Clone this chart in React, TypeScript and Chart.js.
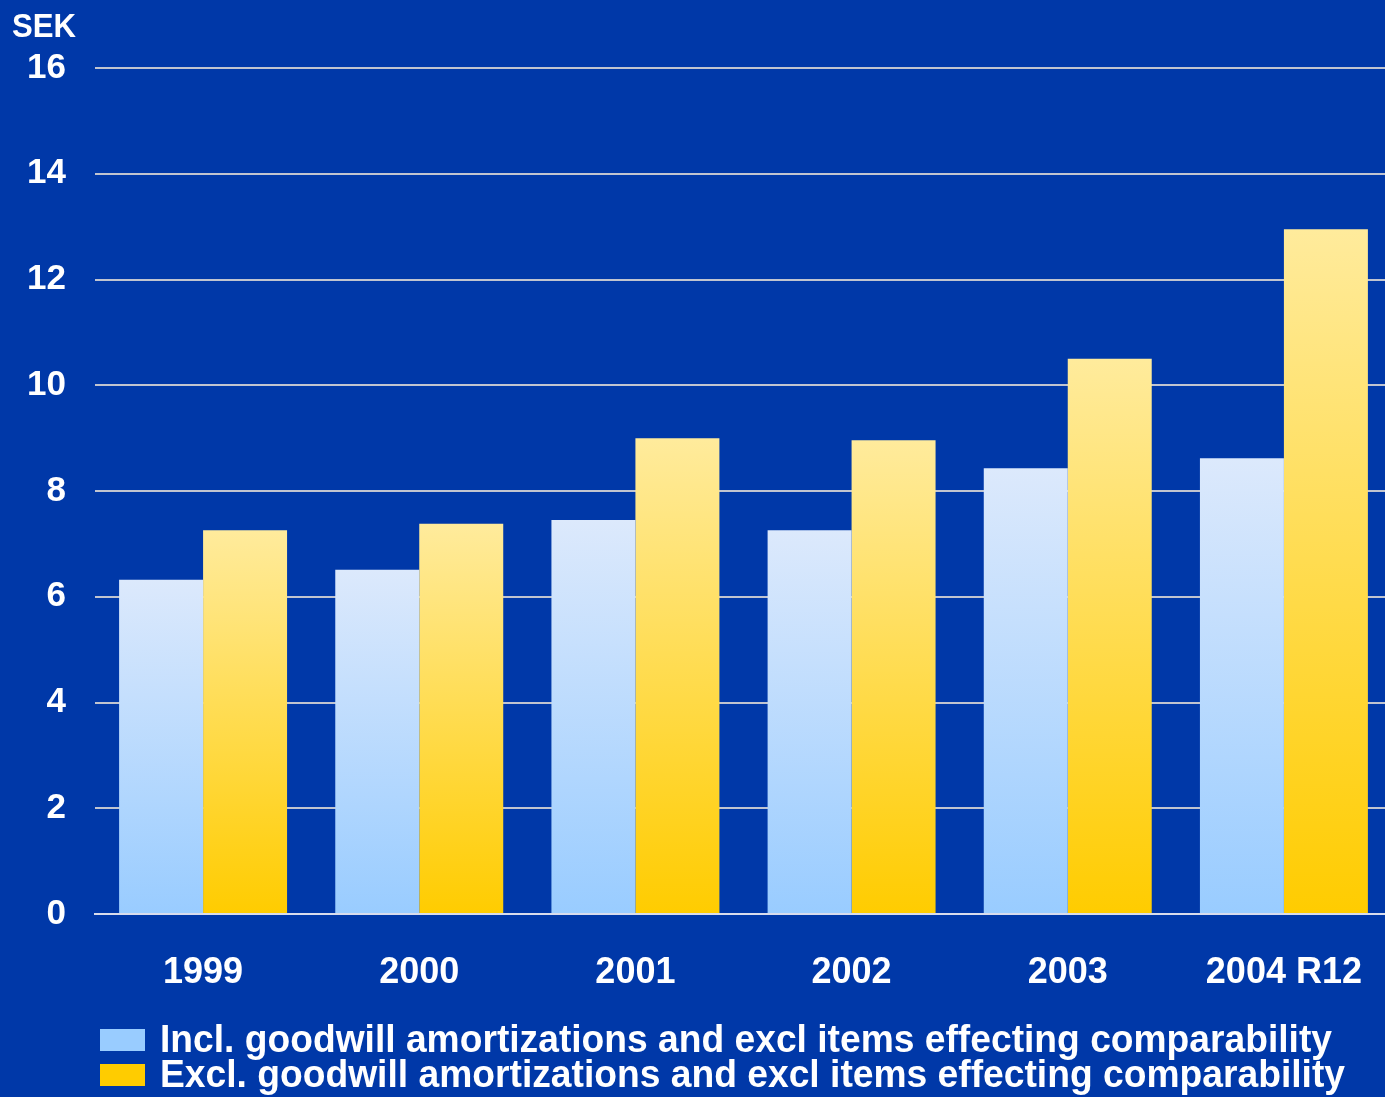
import React, { useEffect, useRef } from "react";
import { Chart, registerables } from "chart.js";

Chart.register(...registerables);

const categories = ["1999", "2000", "2001", "2002", "2003", "2004 R12"];
const inclGoodwill = [6.32, 6.51, 7.45, 7.26, 8.43, 8.62];
const exclGoodwill = [7.26, 7.38, 9.0, 8.96, 10.5, 12.95];
const seriesLabels = [
  "Incl. goodwill amortizations and excl items effecting comparability",
  "Excl. goodwill amortizations and excl items effecting comparability",
];
const yUnit = "SEK";

const BG = "#0038a8";
const FONT = "'Liberation Sans', Arial, sans-serif";

function barGradient(context: any, top: string, bottom: string) {
  const chart = context.chart;
  const { ctx, chartArea, scales } = chart;
  if (!chartArea || !scales || !scales.y) return bottom;
  const v = context.raw as number;
  const yTop = scales.y.getPixelForValue(v);
  const yBot = scales.y.getPixelForValue(0);
  if (!isFinite(yTop) || !isFinite(yBot) || yTop === yBot) return bottom;
  const g = ctx.createLinearGradient(0, yTop, 0, yBot);
  g.addColorStop(0, top);
  g.addColorStop(1, bottom);
  return g;
}

const extrasPlugin = {
  id: "extras",
  beforeDraw(chart: any) {
    const ctx = chart.ctx;
    ctx.save();
    ctx.fillStyle = BG;
    ctx.fillRect(0, 0, chart.width, chart.height);
    ctx.restore();
  },
  afterDraw(chart: any) {
    const ctx = chart.ctx;
    ctx.save();
    ctx.fillStyle = "#ffffff";
    ctx.textBaseline = "alphabetic";
    ctx.textAlign = "left";
    ctx.font = `bold 33px ${FONT}`;
    ctx.fillText(yUnit, 12, 37, 64);

    const swatches = ["#99ccff", "#ffcc00"];
    const rows = [
      { boxY: 1029, base: 1052, maxW: 1172 },
      { boxY: 1064, base: 1087, maxW: 1185 },
    ];
    rows.forEach((r, i) => {
      ctx.fillStyle = swatches[i];
      ctx.fillRect(100, r.boxY, 45, 22);
      ctx.fillStyle = "#ffffff";
      ctx.font = `bold 38px ${FONT}`;
      ctx.fillText(seriesLabels[i], 160, r.base, r.maxW);
    });
    ctx.restore();
  },
};

export default function App() {
  const ref = useRef<HTMLCanvasElement | null>(null);

  useEffect(() => {
    if (!ref.current) return;
    const chart = new Chart(ref.current, {
      type: "bar",
      data: {
        labels: categories,
        datasets: [
          {
            label: seriesLabels[0],
            data: inclGoodwill,
            backgroundColor: (c: any) => barGradient(c, "#dce9fc", "#99ccff"),
            borderWidth: 0,
            categoryPercentage: 0.777,
            barPercentage: 1,
          },
          {
            label: seriesLabels[1],
            data: exclGoodwill,
            backgroundColor: (c: any) => barGradient(c, "#ffeb9c", "#ffcc00"),
            borderWidth: 0,
            categoryPercentage: 0.777,
            barPercentage: 1,
          },
        ],
      },
      options: {
        animation: false,
        responsive: false,
        maintainAspectRatio: false,
        layout: { padding: { top: 68, left: 0, right: 8, bottom: 0 } },
        plugins: {
          legend: { display: false },
          tooltip: { enabled: false },
          title: { display: false },
        },
        scales: {
          x: {
            grid: { display: false, drawTicks: false },
            border: { display: true, color: "#d8dcec", width: 2 },
            ticks: {
              color: "#ffffff",
              font: { family: FONT, size: 36, weight: "bold" },
              padding: 37,
              maxRotation: 0,
              autoSkip: false,
            },
            afterFit: (s: any) => {
              s.height = 183;
            },
          },
          y: {
            min: 0,
            max: 16,
            grid: { color: "#c0c4d0", lineWidth: 2, drawTicks: false },
            border: { display: false },
            ticks: {
              stepSize: 2,
              color: "#ffffff",
              font: { family: FONT, size: 35, weight: "bold" },
              padding: 29,
            },
            afterFit: (s: any) => {
              s.width = 95;
            },
          },
        },
      },
      plugins: [extrasPlugin],
    });
    return () => chart.destroy();
  }, []);

  return (
    <div
      style={{
        position: "fixed",
        left: 0,
        top: 0,
        width: 1385,
        height: 1097,
        overflow: "hidden",
        background: BG,
      }}
    >
      <canvas ref={ref} width={1400} height={1097} style={{ display: "block", width: 1400, height: 1097 }} />
    </div>
  );
}
